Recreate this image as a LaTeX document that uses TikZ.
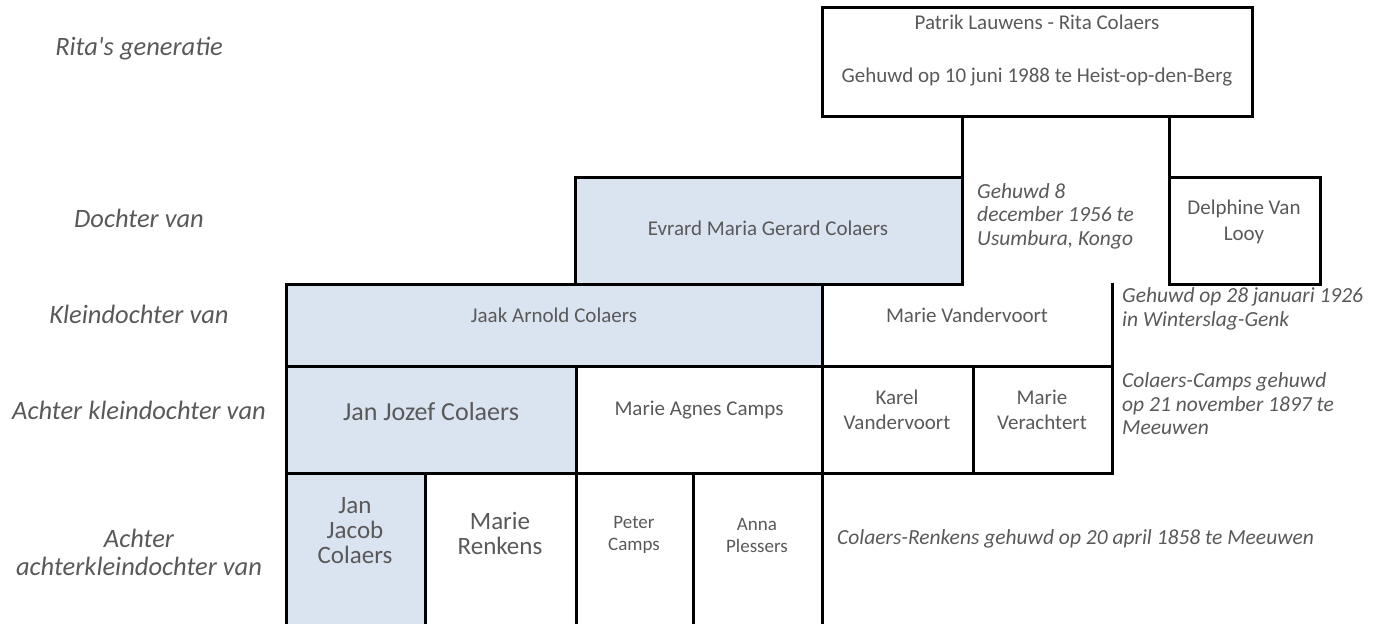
\documentclass[tikz,border=0pt]{standalone}
\usepackage{fontspec}
\setmainfont{Carlito}
\definecolor{txt}{HTML}{595959}
\definecolor{blu}{HTML}{DAE3F0}
\begin{document}
\begin{tikzpicture}[x=1pt,y=-1pt,
  ln/.style={line width=3pt, draw=black, line cap=rect},
  boxn/.style={ln, rectangle, anchor=north west, inner sep=0pt, outer sep=0pt},
  person/.style={text=txt, align=center, inner sep=0pt, font=\fontsize{21}{25.5}\selectfont},
  bigperson/.style={person, font=\fontsize{25}{25}\selectfont},
  jjperson/.style={person, font=\fontsize{26}{30}\selectfont},
  smallperson/.style={person, font=\fontsize{19}{22}\selectfont},
  note/.style={text=txt, align=left, anchor=west, inner sep=0pt, font=\fontsize{21.5}{23.5}\selectfont\itshape},
  gen/.style={text=txt, align=center, inner sep=0pt, font=\fontsize{26.5}{28}\selectfont\itshape}]
\useasboundingbox (0,0) rectangle (1382,624);
\clip (0,0) rectangle (1382,624);
% fills
\fill[blu] (575,177) rectangle (962,284);
\fill[blu] (286,284) rectangle (822,366);
\fill[blu] (286,366) rectangle (576,473);
\fill[blu] (286,473) rectangle (425,640);
% boxes
\node[boxn, minimum width=430, minimum height=109] (top) at (822,7) {};
\node[boxn, minimum width=387, minimum height=107] (evr) at (575,177) {};
\node[boxn, minimum width=151, minimum height=107] (del) at (1169,177) {};
\node[boxn, minimum width=536, minimum height=82] (jaak) at (286,284) {};
% connectors from the couple box
\draw[ln] (top.south -| evr.east) -- (evr.north east);
\draw[ln] (top.south -| del.west) -- (del.north west);
% open grid lines
\coordinate (mvr) at (1112,284);
\coordinate (r3l) at (286,366);
\coordinate (r3r) at (1112,366);
\coordinate (r4l) at (286,473);
\coordinate (r4r) at (1112,473);
\coordinate (bl) at (286,640);
\draw[ln] (mvr) -- (r4r);
\draw[ln] (r3l) -- (r3r);
\draw[ln] (r4l) -- (r4r);
\draw[ln] (jaak.south west) -- (bl);
\draw[ln] (576,366) -- (576,640);
\draw[ln] (822,366) -- (822,640);
\draw[ln] (973,366) -- (973,473);
\draw[ln] (425,473) -- (425,640);
\draw[ln] (693,473) -- (693,640);
% generation labels
\node[gen] (g1) at (139,49) {Rita\textquotesingle s generatie};
\node[gen] (g2) at (139,218) {Dochter van};
\node[gen] (g3) at (139,314) {Kleindochter van};
\node[gen] (g4) at (139,410) {Achter kleindochter van};
\node[gen] (g5) at (139,552) {Achter\\achterkleindochter van};
% persons
\node[person] (t1) at (1037,22) {Patrik Lauwens - Rita Colaers};
\node[person] (t2) at (1037,77) {Gehuwd op 10 juni 1988 te Heist-op-den-Berg};
\node[person] (p1) at (768,228) {Evrard Maria Gerard Colaers};
\node[person] (p2) at (1244,222) {Delphine Van\\Looy};
\node[person] (p3) at (554,315) {Jaak Arnold Colaers};
\node[person] (p4) at (967,315) {Marie Vandervoort};
\node[jjperson] (p5) at (431,412) {Jan Jozef Colaers};
\node[person] (p6) at (699,410) {Marie Agnes Camps};
\node[person] (p7) at (897,410) {Karel\\Vandervoort};
\node[person] (p8) at (1042,410) {Marie\\Verachtert};
\node[bigperson] (p9) at (355,531) {Jan\\Jacob\\Colaers};
\node[bigperson] (p10) at (500,533) {Marie\\Renkens};
\node[smallperson] (p11) at (634,535) {Peter\\Camps};
\node[smallperson] (p12) at (757,535) {Anna\\Plessers};
% marriage notes
\node[note] (n1) at (977,216) {Gehuwd 8\\december 1956 te\\Usumbura, Kongo};
\node[note] (n2) at (1122,309) {Gehuwd op 28 januari 1926\\in Winterslag-Genk};
\node[note] (n3) at (1122,404) {Colaers-Camps gehuwd\\op 21 november 1897 te\\Meeuwen};
\node[note] (n4) at (837,539) {Colaers-Renkens gehuwd op 20 april 1858 te Meeuwen};
\end{tikzpicture}
\end{document}
